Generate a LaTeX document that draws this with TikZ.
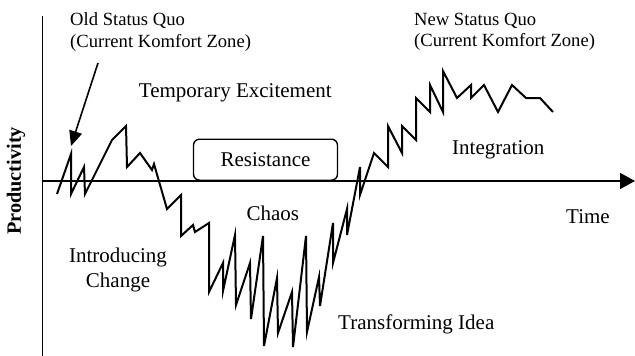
\documentclass[tikz,border=0pt]{standalone}
\usepackage{fontspec}
\setmainfont{Liberation Serif}
\usetikzlibrary{arrows.meta, positioning}
\tikzset{
  phaselabel/.style={font=\fontsize{21}{25}\selectfont, inner sep=0pt, align=center},
  quolabel/.style={font=\fontsize{18.6}{21.5}\selectfont, inner sep=0pt, align=left, anchor=west},
  resistbox/.style={draw, line width=1.4pt, rounded corners=6pt, minimum width=144pt,
    minimum height=41pt, inner sep=0pt, font=\fontsize{21}{25}\selectfont},
  axisline/.style={line width=1.8pt},
  axisarrow/.style={line width=1.5pt, -{Triangle[length=15pt, width=16pt]}},
  pointerarrow/.style={line width=1.6pt, -{Triangle[length=15pt, width=13pt]}},
  curveline/.style={line width=2pt, line join=miter},
}
\begin{document}
\begin{tikzpicture}[x=1pt, y=-1pt]
  \useasboundingbox (0,0) rectangle (635,356);
  % axes
  \coordinate (ytop) at (42.5,16);
  \coordinate (ybot) at (42.5,356);
  \coordinate (xstart) at (42.5,181);
  \coordinate (xend) at (635,181);
  \draw[axisline] (ytop) -- (ybot);
  \draw[axisarrow] (xstart) -- (xend);
  \node[rotate=90, font=\fontsize{20.3}{24}\bfseries, inner sep=0pt] (prod) at (16,181) {Productivity};
  \node[phaselabel, anchor=base] (time) at (588,223.5) {Time};

  % productivity curve
  \draw[curveline] (57,194) -- (71,154) -- (71,194) -- (84,167) -- (85,194)
    -- (112,140) -- (126,126) -- (127,167) -- (140,153) -- (152,170) -- (154,164)
    -- (167,209) -- (181,195) -- (181,236) -- (193,225) -- (195,232) -- (209,223)
    -- (209,292) -- (223,263) -- (223,291) -- (235,235) -- (236,305) -- (250,263)
    -- (251,319) -- (263,236) -- (264,346) -- (277,278) -- (278,333) -- (292,292)
    -- (293,347) -- (306,236) -- (307,332) -- (319,277) -- (320,306) -- (333,223)
    -- (333,263) -- (347,209) -- (347,235) -- (360,167) -- (360,195) -- (374,153)
    -- (388,167) -- (388,126) -- (402,153) -- (402,126) -- (416,140) -- (416,98)
    -- (430,112) -- (430,85) -- (443,112) -- (443,71) -- (457,98) -- (471,85)
    -- (471,98) -- (484,85) -- (498,112) -- (512,85) -- (526,98) -- (540,98)
    -- (553,112);

  % phases
  \node[quolabel] (oldsq) at (70,32) {Old Status Quo\\(Current Komfort Zone)};
  \node[quolabel] (newsq) at (414,32) {New Status Quo\\(Current Komfort Zone)};
  \coordinate (oldfrom) at (98,63);
  \coordinate (oldtip) at (71,146);
  \draw[pointerarrow] (oldfrom) -- (oldtip);
  \node[phaselabel, anchor=base] (excite) at (235.3,97) {Temporary Excitement};
  \node[resistbox] (resist) at (265.5,159.7) {Resistance};
  \node[phaselabel, anchor=base] (integ) at (498.3,154) {Integration};
  \node[phaselabel, anchor=base] (chaos) at (272.8,220.5) {Chaos};
  \node[phaselabel] (intro) at (118,270) {Introducing\\Change};
  \node[phaselabel, anchor=base] (transf) at (416.3,329) {Transforming Idea};
\end{tikzpicture}
\end{document}
